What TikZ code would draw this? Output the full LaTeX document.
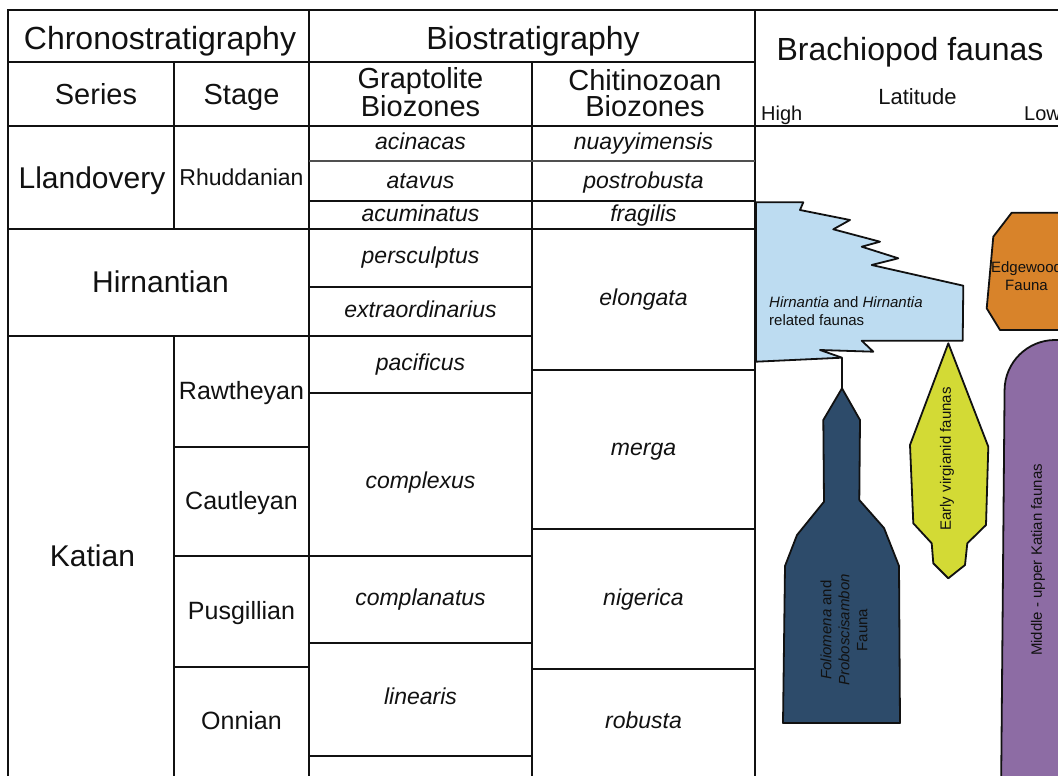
\documentclass[tikz,border=0pt]{standalone}
\usepackage{fontspec}
\setmainfont{Liberation Sans}
\usepackage{xcolor}
\usepackage{tikz}
\definecolor{stratink}{HTML}{111111}
\definecolor{stratgrey}{HTML}{505050}
\definecolor{hirnblue}{HTML}{BDDCF1}
\definecolor{folioblue}{HTML}{2D4B6A}
\definecolor{virgyellow}{HTML}{D3DA35}
\definecolor{edgeorange}{HTML}{D8832A}
\definecolor{katianpurple}{HTML}{8D6CA4}

\newcommand{\bighead}{\fontsize{32}{32}\selectfont}
\newcommand{\subhead}{\fontsize{29}{26}\selectfont}
\newcommand{\seriesfont}{\fontsize{30}{30}\selectfont}
\newcommand{\stagefont}{\fontsize{25}{25}\selectfont}
\newcommand{\zonefont}{\fontsize{23}{23}\selectfont}
\newcommand{\faunafont}{\fontsize{15}{18}\selectfont}

\begin{document}
\begin{tikzpicture}[
    x=1pt,
    y=-1pt,
    major/.style={line width=2.4pt, draw=stratink},
    minor/.style={line width=1.8pt, draw=stratink},
    faint/.style={line width=1.2pt, draw=stratgrey},
    cell/.style={anchor=base, inner sep=0pt, text=stratink},
    zone/.style={cell, font=\zonefont\itshape},
    stagecell/.style={cell, font=\stagefont},
    fauna/.style={draw=stratink, line width=1.8pt, line join=round}
  ]
    \useasboundingbox (0,0) rectangle (1058,776);
    \clip (0,0) rectangle (1058,776);

    % Frame and column lines
    \draw[major] (8,800) -- (8,10) -- (1100,10);
    \draw[major] (8,126) -- (1100,126);
    \draw[major] (8,62) -- (755,62);
    \draw[major] (309,10) -- (309,800);
    \draw[major] (755,10) -- (755,800);
    \draw[major] (532,62) -- (532,800);
    \draw[major] (174,62) -- (174,229);
    \draw[major] (174,336) -- (174,800);

    % Row lines
    \draw[faint] (309,161) -- (755,161);
    \draw[minor] (309,201) -- (755,201);
    \draw[minor] (8,229) -- (755,229);
    \draw[minor] (309,287) -- (532,287);
    \draw[minor] (8,336) -- (532,336);
    \draw[minor] (532,370) -- (755,370);
    \draw[minor] (309,393) -- (532,393);
    \draw[minor] (174,447) -- (309,447);
    \draw[minor] (532,529) -- (755,529);
    \draw[minor] (174,556) -- (532,556);
    \draw[minor] (309,643) -- (532,643);
    \draw[minor] (174,667) -- (309,667);
    \draw[minor] (532,669) -- (755,669);
    \draw[minor] (309,756) -- (532,756);

    % Headings
    \node[cell, font=\bighead] (hd-chrono) at (160,50) {Chronostratigraphy};
    \node[cell, font=\bighead] (hd-bio) at (533,50) {Biostratigraphy};
    \node[cell, font=\subhead] (hd-series) at (96,104) {Series};
    \node[cell, font=\subhead] (hd-stage) at (241.5,104) {Stage};
    \node[cell, font=\subhead, align=center] (hd-grapt) at (420.5,117) {Graptolite\\Biozones};
    \node[cell, font=\subhead, align=center] (hd-chitino) at (645,117) {Chitinozoan\\Biozones};
    \node[cell, font=\bighead] (hd-brach) at (910,61) {Brachiopod faunas};
    \node[cell, font=\fontsize{22}{22}\selectfont] (hd-lat) at (917.5,104) {Latitude};
    \node[cell, anchor=base west, font=\fontsize{20}{20}\selectfont] (hd-high) at (761,121) {High};
    \node[cell, anchor=base west, font=\fontsize{20}{20}\selectfont] (hd-low) at (1024,121) {Low};

    % Series and stages
    \node[cell, font=\seriesfont] (s-llandovery) at (92,188) {Llandovery};
    \node[cell, font=\seriesfont] (s-hirnantian) at (160.5,292) {Hirnantian};
    \node[cell, font=\seriesfont] (s-katian) at (92.5,566) {Katian};
    \node[cell, font=\zonefont] (st-rhuddanian) at (241.5,185) {Rhuddanian};
    \node[stagecell] (st-rawtheyan) at (241.5,399) {Rawtheyan};
    \node[stagecell] (st-cautleyan) at (241.5,509) {Cautleyan};
    \node[stagecell] (st-pusgillian) at (241.5,619) {Pusgillian};
    \node[stagecell] (st-onnian) at (241.5,729) {Onnian};

    % Graptolite biozones
    \node[zone] (g-acinacas) at (420.5,149) {acinacas};
    \node[zone] (g-atavus) at (420.5,188) {atavus};
    \node[zone] (g-acuminatus) at (420.5,221) {acuminatus};
    \node[zone] (g-persculptus) at (420.5,263) {persculptus};
    \node[zone] (g-extraord) at (420.5,317) {extraordinarius};
    \node[zone] (g-pacificus) at (420.5,370) {pacificus};
    \node[zone] (g-complexus) at (420.5,488) {complexus};
    \node[zone] (g-complanatus) at (420.5,605) {complanatus};
    \node[zone] (g-linearis) at (420.5,704) {linearis};

    % Chitinozoan biozones
    \node[zone] (c-nuayyimensis) at (643.5,149) {nuayyimensis};
    \node[zone] (c-postrobusta) at (643.5,188) {postrobusta};
    \node[zone] (c-fragilis) at (643.5,221) {fragilis};
    \node[zone] (c-elongata) at (643.5,305) {elongata};
    \node[zone] (c-merga) at (643.5,455) {merga};
    \node[zone] (c-nigerica) at (643.5,605) {nigerica};
    \node[zone] (c-robusta) at (643.5,728) {robusta};

    % Hirnantia faunas
    \coordinate (hirn-base) at (842,357.7);
    \draw[fauna, fill=hirnblue] (756,202.3) -- (803.3,202.3) -- (800,210) -- (850,220) -- (833.3,229.3)
      -- (880,241.7) -- (861.7,246.7) -- (898.3,258.3) -- (871.7,265) -- (963.3,285.7) -- (962.7,340.7)
      -- (861.7,340.7) -- (873.3,351.7) -- (820,350) -- (hirn-base) -- (756,361.7) -- cycle;
    \node[cell, anchor=base west, align=left, font=\faunafont] (t-hirn) at (769,325)
      {\textit{Hirnantia} and \textit{Hirnantia}\\related faunas};

    % Foliomena and Proboscisambon fauna
    \coordinate (folio-top) at (842,388.3);
    \draw[fauna, fill=folioblue] (folio-top) -- (860,420) -- (859.3,500) -- (884,528) -- (899,566)
      -- (900,723) -- (783,723) -- (785,566) -- (797,535) -- (824,501.7) -- (823.3,420) -- cycle;
    \draw[line width=1.5pt, draw=stratink] (hirn-base) -- (folio-top);
    \node[rotate=90, align=center, font=\faunafont, text=stratink] (t-folio) at (844,630)
      {\textit{Foliomena} and\\\textit{Proboscisambon}\\Fauna};

    % Early virgianid faunas
    \draw[fauna, fill=virgyellow] (948.3,343.3) -- (988.3,446.7) -- (986,525) -- (967.3,543.3) -- (965,565)
      -- (948.3,578.3) -- (933.3,563.3) -- (931.7,543.3) -- (913.3,523.3) -- (910,445) -- cycle;
    \node[rotate=90, font=\faunafont, text=stratink] (t-virg) at (947,459) {Early virgianid faunas};

    % Edgewood fauna
    \draw[fauna, fill=edgeorange] (1100,212.7) -- (1011.7,212.7) -- (993.3,236.7) -- (986.7,308.3)
      -- (1000,330) -- (1100,330) -- cycle;
    \node[cell, align=center, font=\faunafont] (t-edge) at (1026.5,290) {Edgewood\\Fauna};

    % Middle - upper Katian faunas
    \draw[fauna, fill=katianpurple, rounded corners=50pt] (1001,800) -- (1005,340) -- (1200,340) -- (1200,800);
    \node[rotate=90, font=\faunafont, text=stratink] (t-katian) at (1038,560) {Middle - upper Katian faunas};
\end{tikzpicture}
\end{document}
